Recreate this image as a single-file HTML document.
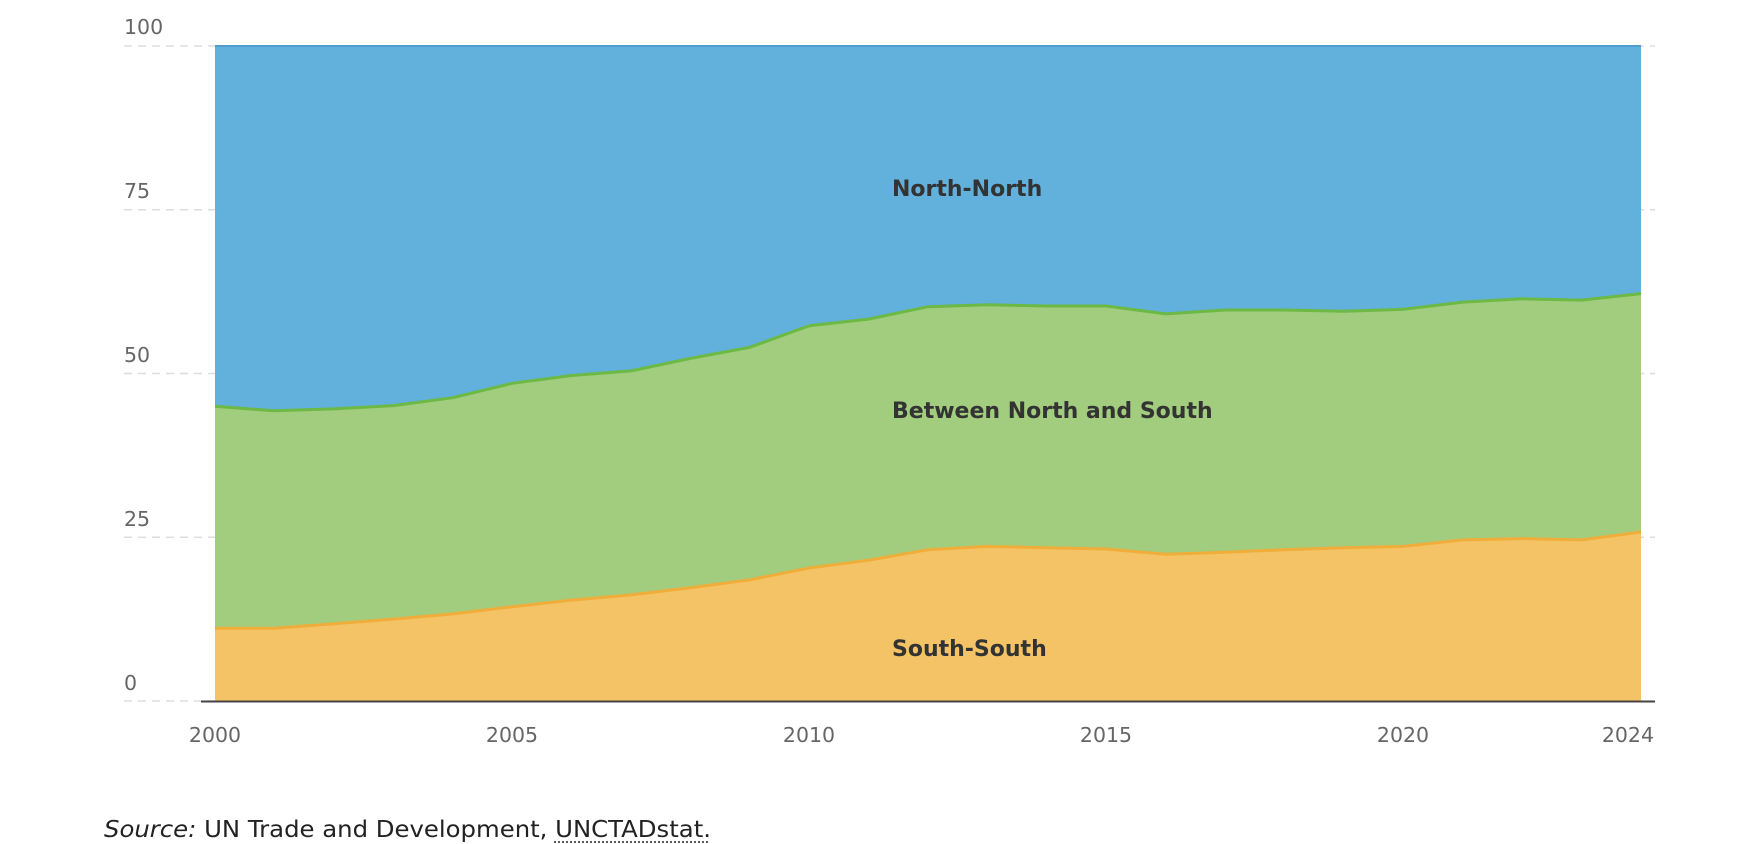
<!DOCTYPE html>
<html><head><meta charset="utf-8"><style>
html,body{margin:0;padding:0;background:#fff;width:1756px;height:844px;overflow:hidden}
svg text{font-family:"DejaVu Sans","Liberation Sans",sans-serif}
</style></head><body>
<svg id="c" width="1756" height="844" xmlns="http://www.w3.org/2000/svg">
<g id="grid"></g>
<path id="blue" fill="#62b0dc"/>
<path id="green" fill="#a2cc7e"/>
<path id="orange" fill="#f3c366"/>
<path id="gl" fill="none" stroke="#6cb944" stroke-width="3"/>
<path id="ol" fill="none" stroke="#f0ad3a" stroke-width="3"/>
<line x1="215" y1="46" x2="1641" y2="46" stroke="#4e9fd0" stroke-width="2"/>
<line x1="201" y1="701.5" x2="1655" y2="701.5" stroke="#444" stroke-width="2"/>
<g font-size="20.5" fill="#666">
<text x="124" y="34">100</text>
<text x="124" y="198">75</text>
<text x="124" y="362">50</text>
<text x="124" y="526">25</text>
<text x="124" y="690">0</text>
<g text-anchor="middle">
<text x="215" y="742">2000</text>
<text x="512" y="742">2005</text>
<text x="809" y="742">2010</text>
<text x="1106" y="742">2015</text>
<text x="1403" y="742">2020</text>
<text x="1654" y="742" text-anchor="end">2024</text>
</g></g>
<g font-size="22" font-weight="bold" fill="#333">
<text x="892" y="196">North-North</text>
<text x="892" y="418">Between North and South</text>
<text x="892" y="656">South-South</text>
</g>
<text x="104" y="837" font-size="23" fill="#222" textLength="607" lengthAdjust="spacingAndGlyphs"><tspan font-style="italic">Source:</tspan>  UN Trade and Development, UNCTADstat.</text>
<line x1="554" y1="842" x2="708" y2="842" stroke="#222" stroke-width="1.5" stroke-dasharray="2,2"/>
</svg>
<script>
var ss=[11.1,11.1,11.8,12.5,13.3,14.4,15.4,16.2,17.3,18.5,20.3,21.5,23.1,23.6,23.4,23.2,22.4,22.7,23.1,23.4,23.6,24.6,24.8,24.6,25.8];
var gt=[45,44.3,44.6,45.1,46.3,48.5,49.7,50.4,52.3,54,57.3,58.3,60.2,60.5,60.3,60.3,59.1,59.7,59.7,59.5,59.8,60.9,61.4,61.2,62.2];
function X(i){return 215+i*(1641-215)/24}
function Y(v){return 701-v*6.55}
function line(a){return a.map(function(v,i){return (i?'L':'M')+X(i).toFixed(1)+','+Y(v).toFixed(1)}).join('')}
document.getElementById('blue').setAttribute('d','M215,46L1641,46L1641,701L215,701Z');
document.getElementById('green').setAttribute('d',line(gt)+'L1641,701L215,701Z');
document.getElementById('orange').setAttribute('d',line(ss)+'L1641,701L215,701Z');
document.getElementById('gl').setAttribute('d',line(gt));
document.getElementById('ol').setAttribute('d',line(ss));
var g=document.getElementById('grid'),h='';
[0,25,50,75,100].forEach(function(v){h+='<line x1="124" x2="1655" y1="'+Y(v)+'" y2="'+Y(v)+'" stroke="#ddd" stroke-width="1.5" stroke-dasharray="8,6"/>'});
g.innerHTML=h;
</script>
</body></html>
